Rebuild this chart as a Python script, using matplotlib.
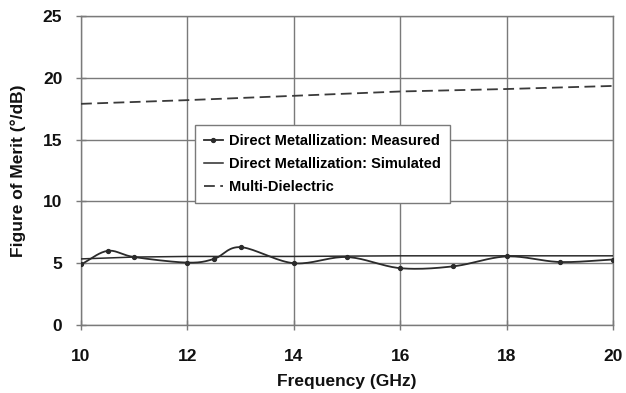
import numpy as np
import matplotlib.pyplot as plt

# Figure of merit vs frequency
freq_meas = [10, 10.5, 11, 12, 12.5, 13, 14, 15, 16, 17, 18, 19, 20]
fom_meas = [4.9, 6.0, 5.5, 5.05, 5.35, 6.3, 5.0, 5.5, 4.6, 4.75, 5.55, 5.1, 5.3]

freq_sim = [10, 11, 12, 14, 16, 18, 20]
fom_sim = [5.35, 5.5, 5.55, 5.55, 5.6, 5.6, 5.6]

freq_md = [10, 12, 14, 16, 18, 20]
fom_md = [17.9, 18.2, 18.55, 18.9, 19.1, 19.35]

xticks = [10, 12, 14, 16, 18, 20]
yticks = [0, 5, 10, 15, 20, 25]


def smooth(x, y, n=20):
    # Catmull-Rom curve through the points (spreadsheet style smoothed line)
    x = np.asarray(x, float)
    y = np.asarray(y, float)
    px = np.concatenate([[2 * x[0] - x[1]], x, [2 * x[-1] - x[-2]]])
    py = np.concatenate([[2 * y[0] - y[1]], y, [2 * y[-1] - y[-2]]])
    t = np.linspace(0, 1, n)
    xs, ys = [], []
    for i in range(1, len(px) - 2):
        for p, out in ((px, xs), (py, ys)):
            p0, p1, p2, p3 = p[i - 1], p[i], p[i + 1], p[i + 2]
            out.append(0.5 * (2 * p1 + (-p0 + p2) * t
                              + (2 * p0 - 5 * p1 + 4 * p2 - p3) * t ** 2
                              + (-p0 + 3 * p1 - 3 * p2 + p3) * t ** 3))
    return np.concatenate(xs), np.concatenate(ys)


plt.rcParams['font.family'] = ['Liberation Sans', 'DejaVu Sans']
plt.rcParams['font.weight'] = 'bold'

fig = plt.figure(figsize=(6.26, 3.93), dpi=100)
ax = fig.add_axes([0.1294, 0.173, 0.85, 0.786])

ink = '#2b2b2b'
grid_c = '#7a7a7a'

sx, sy = smooth(freq_meas, fom_meas)
ax.plot(sx, sy, color=ink, lw=1.3, zorder=3)
ax.plot(freq_meas, fom_meas, ls='none', marker='o', ms=2.8, color=ink, zorder=4)
ax.plot([], [], color=ink, lw=1.3, marker='o', ms=2.8,
        label='Direct Metallization: Measured')

ax.plot(freq_sim, fom_sim, color=ink, lw=1.1, zorder=3,
        label='Direct Metallization: Simulated')
ax.plot(freq_md, fom_md, color='#3a3a3a', lw=1.3, ls=(0, (6, 3)), zorder=3,
        label='Multi-Dielectric')

ax.set_xlim(10, 20)
ax.set_ylim(0, 25)
ax.set_xticks(xticks)
ax.set_yticks(yticks)
ax.grid(True, color=grid_c, lw=1.0)
for s in ax.spines.values():
    s.set_color(grid_c)
    s.set_linewidth(1.0)
ax.tick_params(direction='inout', length=7, width=1.0, color=grid_c,
               labelsize=12.5, labelcolor='#111111')
ax.tick_params(axis='x', pad=14)
ax.tick_params(axis='y', pad=10)

ax.set_xlabel('Frequency (GHz)', fontsize=12.5, fontweight='bold', labelpad=7,
              color='#111111')
ax.set_ylabel('Figure of Merit (°/dB)', fontsize=12.5, fontweight='bold',
              labelpad=12, color='#111111')

leg = ax.legend(loc='upper left', bbox_to_anchor=(0.214, 0.647), fontsize=10.5,
                frameon=True, fancybox=False, edgecolor=grid_c,
                handlelength=1.3, handletextpad=0.45, labelspacing=0.62,
                borderpad=0.6, borderaxespad=0, framealpha=1)
leg.get_frame().set_linewidth(1.0)

fig.savefig('out.png', dpi=100)
